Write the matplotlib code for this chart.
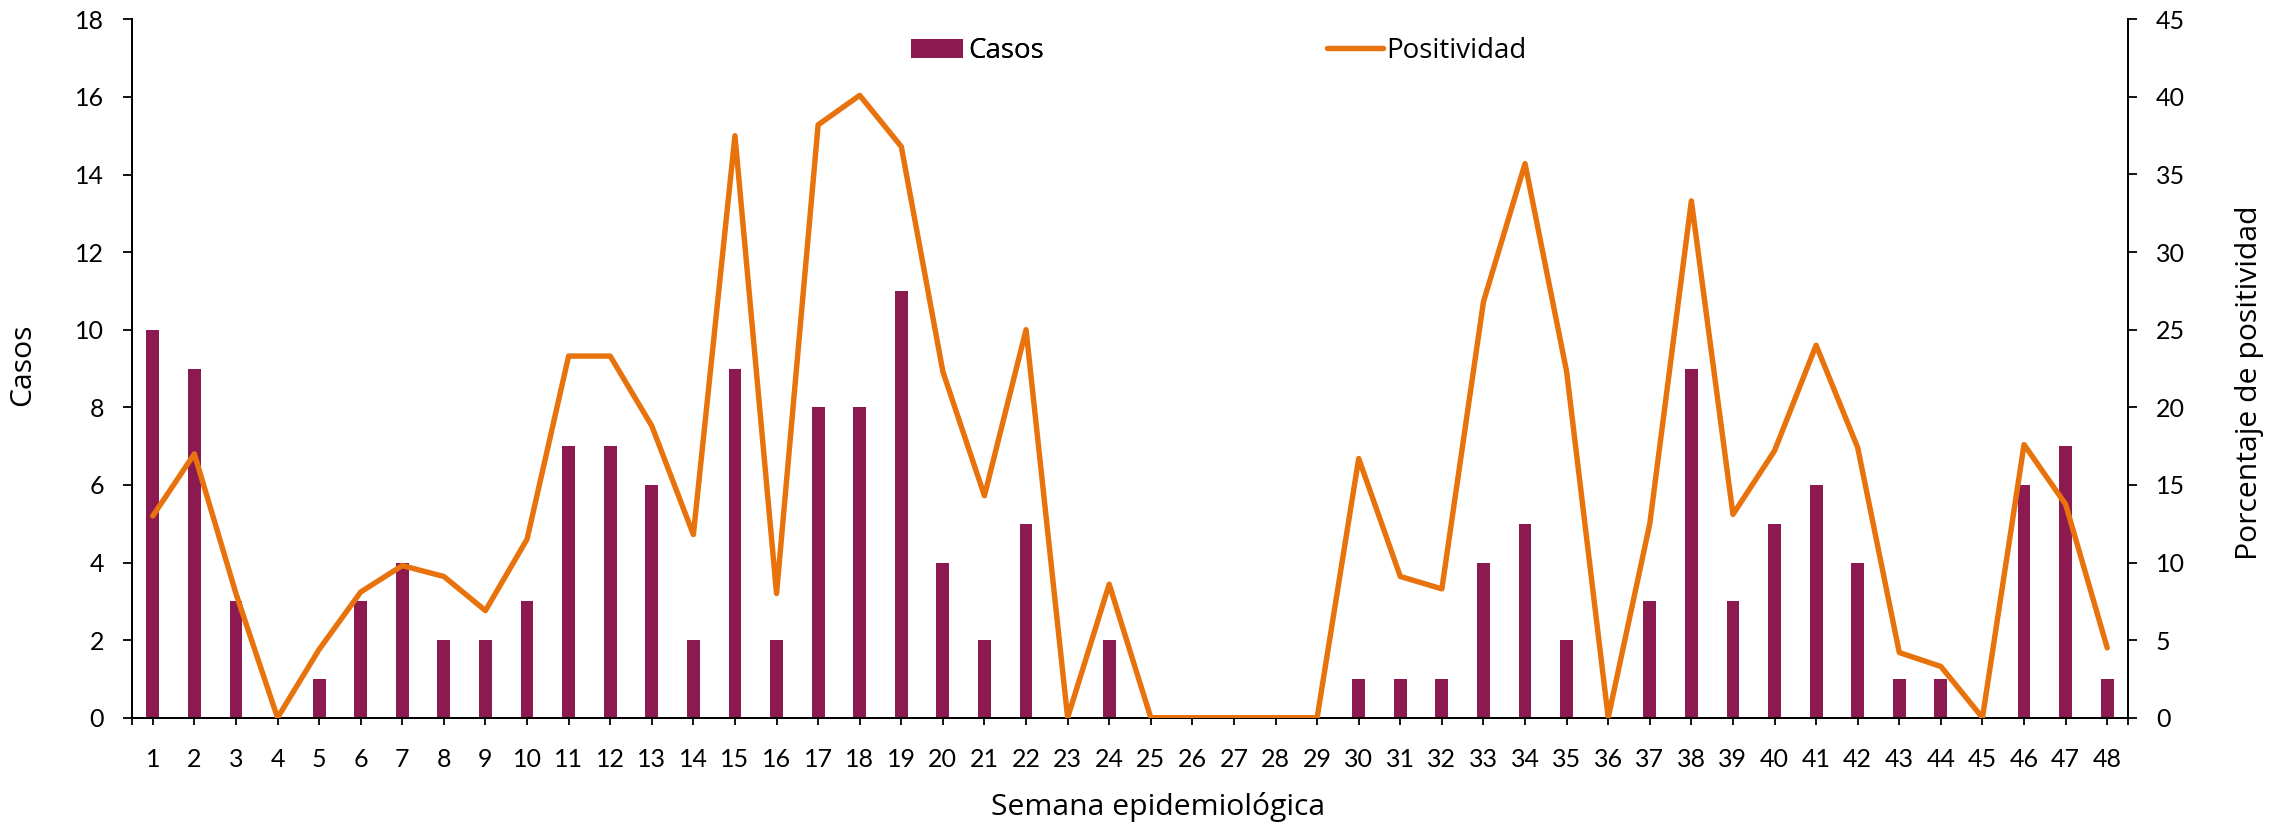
import matplotlib
matplotlib.use("Agg")
import matplotlib.pyplot as plt
from matplotlib.patches import Patch
from matplotlib.lines import Line2D

weeks = list(range(1, 49))
casos = [10, 9, 3, 0, 1, 3, 4, 2, 2, 3, 7, 7, 6, 2, 9, 2, 8, 8, 11, 4, 2, 5, 0, 2,
         0, 0, 0, 0, 0, 1, 1, 1, 4, 5, 2, 0, 3, 9, 3, 5, 6, 4, 1, 1, 0, 6, 7, 1]
positividad = [13.0, 17.0, 8.0, 0.0, 4.4, 8.1, 9.8, 9.1, 6.9, 11.5, 23.3, 23.3,
               18.8, 11.8, 37.5, 8.0, 38.2, 40.1, 36.8, 22.3, 14.3, 25.0, 0.0, 8.6,
               0.0, 0.0, 0.0, 0.0, 0.0, 16.7, 9.1, 8.3, 26.8, 35.7, 22.3, 0.0,
               12.5, 33.3, 13.1, 17.2, 24.0, 17.4, 4.2, 3.3, 0.0, 17.6, 13.75, 4.5]
left_ticks = list(range(0, 19, 2))
right_ticks = list(range(0, 46, 5))

BAR = '#8C1A51'
LINE = '#E8720C'
W, H = 2289, 826
fig = plt.figure(figsize=(W / 100, H / 100), dpi=100)
L, R, T, B = 132, 2128, 19.3, 717.7
ax = fig.add_axes([L / W, 1 - B / H, (R - L) / W, (B - T) / H])
ax2 = ax.twinx()

ax.bar(weeks, casos, width=0.31, color=BAR, zorder=2)
ax2.plot(weeks, positividad, color=LINE, lw=3.9, solid_joinstyle='round',
         solid_capstyle='round', zorder=3)

ax.set_xlim(0.5, 48.5)
ax.set_ylim(0, 18)
ax2.set_ylim(0, 45)
ax.set_yticks(left_ticks)
ax2.set_yticks(right_ticks)
ax.set_xticks(weeks)
ax.set_xticklabels([str(w) for w in weeks])
ax.set_xticks([0.5, 48.5], minor=True)

for a in (ax, ax2):
    a.spines['top'].set_visible(False)
    for s in a.spines.values():
        s.set_linewidth(1.3)
        s.set_color('black')
    a.set_facecolor('none')
ax.tick_params(axis='y', direction='out', length=6.5, width=1.3, pad=13.5, labelsize=18)
ax2.tick_params(axis='y', direction='out', length=6.5, width=1.3, pad=13.5, labelsize=18)
ax.tick_params(axis='x', which='both', direction='out', length=5, width=1.3, pad=17, labelsize=18)
for lab in ax.get_xticklabels() + ax.get_yticklabels() + ax2.get_yticklabels():
    lab.set_fontfamily('Lato')

title_font = dict(family='Open Sans', size=21.7)
fig.text(23 / W, 1 - 365 / H, 'Casos', rotation=90, ha='center', va='center', **title_font)
fig.text(2250 / W, 1 - 383 / H, 'Porcentaje de positividad', rotation=90, ha='center',
         va='center', **title_font)
fig.text(1158 / W, 1 - 807 / H, 'Semana epidemiológica', ha='center', va='center', **title_font)

leg1 = fig.legend(handles=[Patch(facecolor=BAR, edgecolor='none', label='Casos')],
                  loc='center left', bbox_to_anchor=(911 / W, 1 - 51 / H), frameon=False,
                  borderpad=0, borderaxespad=0, handlelength=1.87, handleheight=0.68,
                  handletextpad=0.2, prop=dict(family='Open Sans', size=20))
leg2 = fig.legend(handles=[Line2D([], [], color=LINE, lw=3.9, solid_capstyle='round',
                                  label='Positividad')],
                  loc='center left', bbox_to_anchor=(1327 / W, 1 - 51 / H), frameon=False,
                  borderpad=0, borderaxespad=0, handlelength=2.0, handletextpad=0.15,
                  prop=dict(family='Open Sans', size=20))
fig.add_artist(leg1)

fig.savefig('out.png', dpi=100)
